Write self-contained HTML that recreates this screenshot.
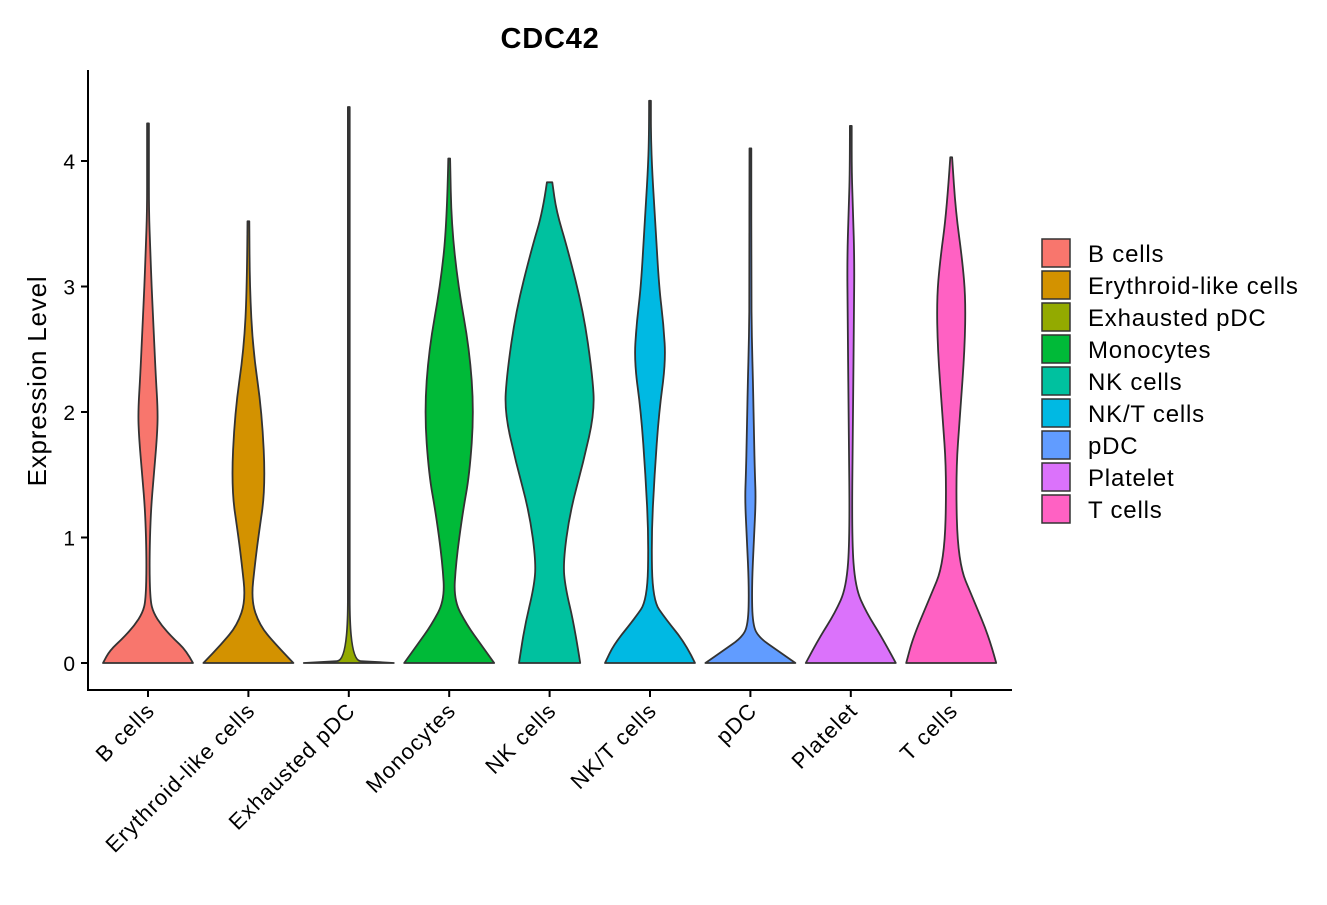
<!DOCTYPE html>
<html><head><meta charset="utf-8"><style>
body{margin:0;background:#fff}
svg text{font-family:"Liberation Sans","DejaVu Sans",sans-serif;fill:#000}
</style></head><body>
<svg id="chart" width="1327" height="900" viewBox="0 0 1327 900" xmlns="http://www.w3.org/2000/svg">
<text x="550" y="48" text-anchor="middle" font-size="29" font-weight="bold" letter-spacing="0.8">CDC42</text>
<text transform="translate(46,381) rotate(-90)" text-anchor="middle" font-size="26" letter-spacing="0.8">Expression Level</text>
<g id="marks"></g>
<line x1="88" y1="70" x2="88" y2="691" stroke="#000" stroke-width="2"/>
<line x1="87" y1="690" x2="1012" y2="690" stroke="#000" stroke-width="2"/>
<g id="axes"></g>
<g id="legend"></g>
</svg>
<script>
const categories=["B cells","Erythroid-like cells","Exhausted pDC","Monocytes","NK cells","NK/T cells","pDC","Platelet","T cells"];
const colors=["#F8766D","#D39200","#93AA00","#00BA38","#00C19F","#00B9E3","#619CFF","#DB72FB","#FF61C3"];
const yTicks=[0,1,2,3,4];
// violin profiles: [expression, relative half-width]
const profBcells=[[0,1],[0.1,0.85],[0.2,0.55],[0.3,0.3],[0.4,0.12],[0.5,0.05],[0.8,0.03],[1.2,0.06],[1.5,0.13],[1.8,0.2],[2.0,0.22],[2.3,0.17],[2.7,0.12],[3.0,0.08],[3.3,0.05],[3.6,0.02],[4.0,0.01],[4.3,0]];
const profErythroid=[[0,1],[0.15,0.6],[0.3,0.25],[0.5,0.06],[0.8,0.15],[1.0,0.22],[1.4,0.38],[2.0,0.3],[2.5,0.1],[3.0,0.03],[3.52,0]];
const profExhausted=[[0,1],[0.01,0.5],[0.02,0.02],[1,0.01],[4.43,0]];
const profMonocytes=[[0,1],[0.15,0.7],[0.3,0.4],[0.5,0.1],[0.8,0.15],[1.2,0.3],[1.5,0.45],[2.0,0.55],[2.5,0.45],[3.0,0.2],[3.5,0.05],[4.02,0]];
const profNK=[[0,0.68],[0.3,0.55],[0.6,0.35],[0.8,0.3],[1.2,0.45],[1.6,0.75],[2.0,1.0],[2.3,0.95],[2.8,0.75],[3.3,0.4],[3.6,0.15],[3.83,0.06]];
const profNKT=[[0,1],[0.15,0.8],[0.35,0.35],[0.5,0.06],[1.0,0.03],[1.5,0.1],[2.0,0.2],[2.4,0.35],[2.7,0.3],[3.0,0.2],[3.5,0.12],[3.9,0.05],[4.2,0.01],[4.48,0]];
const profPDC=[[0,1],[0.1,0.6],[0.2,0.2],[0.3,0.05],[0.6,0.03],[1.0,0.08],[1.3,0.12],[1.5,0.1],[1.8,0.08],[2.2,0.06],[2.6,0.03],[3.0,0.01],[4.1,0]];
const profPlatelet=[[0,1],[0.2,0.7],[0.4,0.35],[0.6,0.1],[1.0,0.02],[2.0,0.05],[2.8,0.07],[3.2,0.08],[3.6,0.05],[3.9,0.01],[4.28,0]];
const profTcells=[[0,1],[0.2,0.85],[0.5,0.5],[0.8,0.15],[1.5,0.1],[2.0,0.2],[2.5,0.3],[2.9,0.32],[3.2,0.25],[3.6,0.1],[4.03,0]];
const profiles=[profBcells,profErythroid,profExhausted,profMonocytes,profNK,profNKT,profPDC,profPlatelet,profTcells];

const NS="http://www.w3.org/2000/svg";
const yScale=v=>663-v*125.5;
const xScale=i=>148+i*100.4;
const maxHW=45;
function mk(t,a,p){const e=document.createElementNS(NS,t);for(const k in a)e.setAttribute(k,a[k]);p.appendChild(e);return e;}
// quadratic smoothing through midpoints (no overshoot)
function smooth(pts,start){
  let d=(start?"M":"L")+pts[0][0]+","+pts[0][1];
  for(let i=1;i<pts.length-1;i++){
    const m=[(pts[i][0]+pts[i+1][0])/2,(pts[i][1]+pts[i+1][1])/2];
    d+=" Q"+pts[i][0]+","+pts[i][1]+" "+m[0]+","+m[1];
  }
  const l=pts[pts.length-1];
  d+=" L"+l[0]+","+l[1];
  return d;
}
const marks=document.getElementById("marks");
profiles.forEach((prof,i)=>{
  const cx=xScale(i);
  const right=prof.map(p=>[cx+Math.max(p[1]*maxHW,0.9),yScale(p[0])]);
  const left=prof.slice().reverse().map(p=>[cx-Math.max(p[1]*maxHW,0.9),yScale(p[0])]);
  const d=smooth(right,true)+" "+smooth(left,false)+" Z";
  const path=mk("path",{d:d,fill:colors[i],stroke:"#333","stroke-width":1.8,"stroke-linejoin":"round"},marks);
  
  
});
const axes=document.getElementById("axes");
yTicks.forEach(v=>{
  const l=mk("line",{x1:81,x2:88,y1:yScale(v),y2:yScale(v),stroke:"#000","stroke-width":2},axes);
  
  
  const t=mk("text",{x:75,y:yScale(v)+8,"text-anchor":"end","font-size":21,fill:"#111"},axes);
  t.textContent=v;
  
  
});
categories.forEach((c,i)=>{
  const x=xScale(i);
  const l=mk("line",{x1:x,x2:x,y1:690,y2:697,stroke:"#000","stroke-width":2},axes);
  
  
  const t=mk("text",{transform:"translate("+(x+8)+",712) rotate(-45)","text-anchor":"end","font-size":22,"letter-spacing":1.1,fill:"#111"},axes);
  t.textContent=c;
  
  
});
const leg=document.getElementById("legend");
categories.forEach((c,i)=>{
  const y=239+i*32;
  const r=mk("rect",{x:1042,y:y,width:28,height:28,fill:colors[i],stroke:"#333","stroke-width":1.5},leg);
  
  
  const t=mk("text",{x:1088,y:y+23,"font-size":24,"letter-spacing":0.8},leg);
  t.textContent=c;
  
  
});
</script>
</body></html>
